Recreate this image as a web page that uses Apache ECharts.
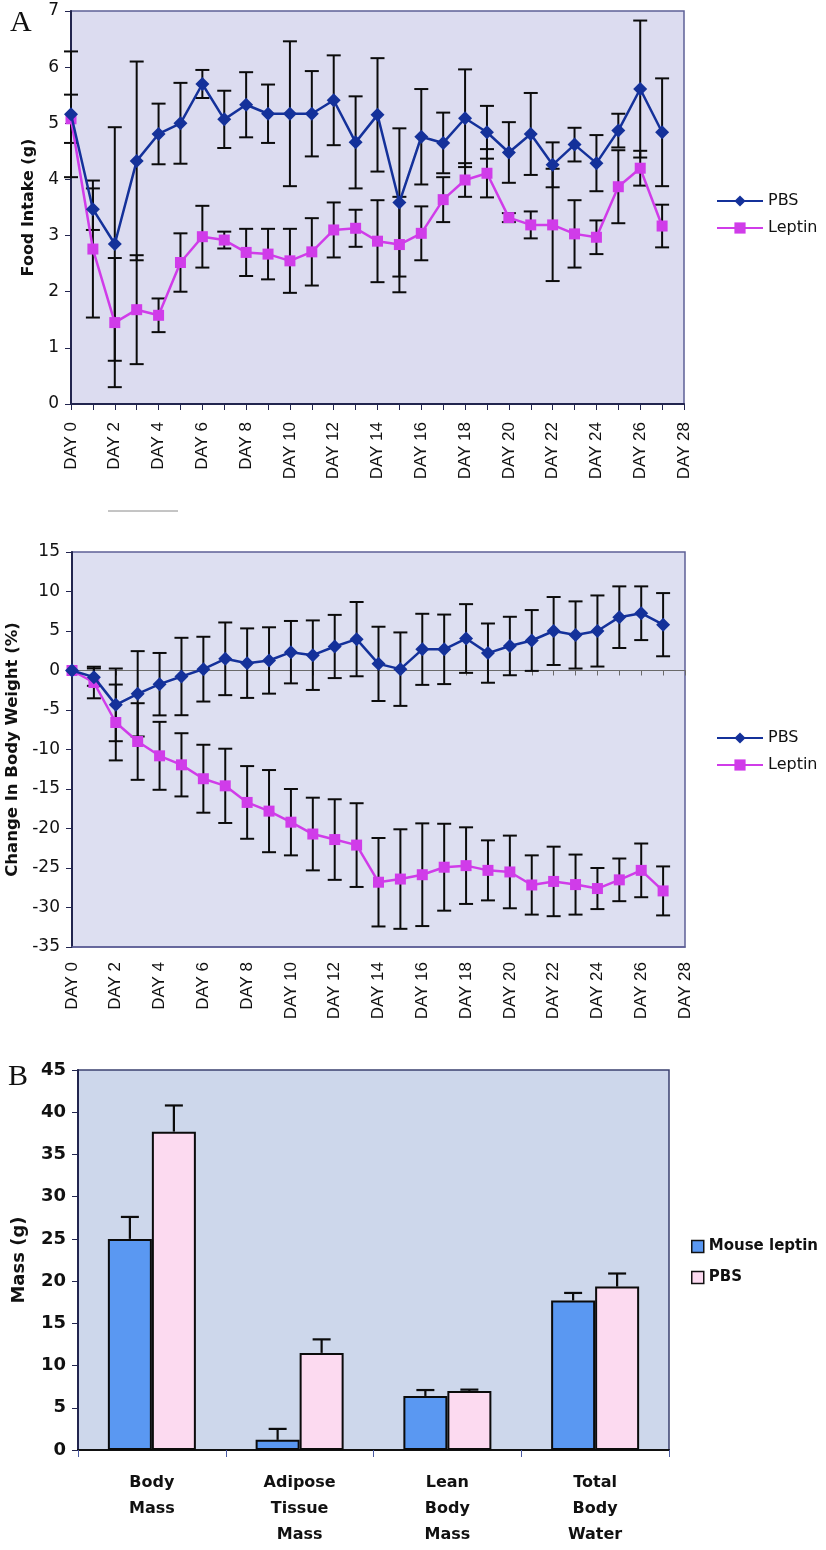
<!DOCTYPE html>
<html>
<head>
<meta charset="utf-8">
<script src="https://cdn.jsdelivr.net/npm/echarts@6/dist/echarts.min.js"></script>
<style>
html,body{margin:0;padding:0;background:#ffffff;}
#chart{width:826px;height:1550px;}
</style>
</head>
<body>
<div id="chart"></div>
<script>
// ---------- Data ----------
const dayLabels = ['DAY 0','DAY 1','DAY 2','DAY 3','DAY 4','DAY 5','DAY 6','DAY 7','DAY 8','DAY 9','DAY 10',
  'DAY 11','DAY 12','DAY 13','DAY 14','DAY 15','DAY 16','DAY 17','DAY 18','DAY 19','DAY 20',
  'DAY 21','DAY 22','DAY 23','DAY 24','DAY 25','DAY 26','DAY 27','DAY 28'];

// Panel A (top): Food intake (g)
const foodPBS = [5.16,3.47,2.85,4.33,4.81,5.00,5.70,5.07,5.33,5.17,5.17,5.17,5.41,4.66,5.15,3.59,4.76,4.65,5.09,4.84,4.48,4.81,4.26,4.62,4.29,4.87,5.61,4.84];
const foodPBSErr = [1.12,0.37,2.08,1.77,0.54,0.72,0.25,0.51,0.58,0.52,1.29,0.76,0.80,0.82,1.01,1.32,0.85,0.54,0.87,0.47,0.54,0.73,0.40,0.30,0.50,0.30,1.22,0.96];
const foodLeptin = [5.08,2.76,1.45,1.68,1.58,2.52,2.98,2.92,2.70,2.67,2.55,2.71,3.10,3.13,2.90,2.84,3.04,3.64,3.99,4.11,3.32,3.19,3.19,3.03,2.97,3.87,4.20,3.17];
const foodLeptinErr = [0.43,1.22,1.15,0.97,0.30,0.52,0.55,0.15,0.42,0.45,0.57,0.60,0.49,0.33,0.73,0.85,0.48,0.40,0.30,0.43,0.08,0.24,1.00,0.60,0.30,0.65,0.31,0.38];

// Panel A (middle): Change in body weight (%)
const weightPBS = [0,-0.84,-4.35,-2.95,-1.73,-0.76,0.17,1.48,0.93,1.27,2.32,1.94,3.04,3.97,0.84,0.17,2.68,2.68,4.05,2.2,3.1,3.8,5.0,4.5,5.0,6.75,7.25,5.8];
const weightPBSErr = [0,1.1,4.6,5.4,3.95,4.9,4.1,4.6,4.4,4.2,3.95,4.4,4.0,4.7,4.7,4.65,4.5,4.4,4.35,3.75,3.7,3.85,4.3,4.25,4.5,3.9,3.4,4.0];
const weightLeptin = [0,-1.52,-6.58,-8.99,-10.8,-11.94,-13.7,-14.6,-16.7,-17.8,-19.2,-20.7,-21.4,-22.1,-26.8,-26.4,-25.85,-24.9,-24.7,-25.3,-25.5,-27.15,-26.7,-27.1,-27.6,-26.5,-25.3,-27.9];
const weightLeptinErr = [0,2.0,4.8,4.85,4.3,4.0,4.3,4.7,4.6,5.2,4.2,4.6,5.1,5.3,5.6,6.3,6.5,5.5,4.85,3.8,4.6,3.75,4.4,3.8,2.6,2.7,3.4,3.1];

// Panel B: Mass (g)
const massCategories = ['Body\nMass','Adipose\nTissue\nMass','Lean\nBody\nMass','Total\nBody\nWater'];
const massLeptin = [25.0,1.2,6.4,17.7];
const massLeptinErr = [2.6,1.3,0.7,0.9];
const massPBS = [37.7,11.5,7.0,19.35];
const massPBSErr = [3.1,1.6,0.15,1.55];

// ---------- Styles ----------
const NAVY = '#14319a';
const MAGENTA = '#d03ce9';
const BLUEBAR = '#5a98f2';
const PINKBAR = '#fcdaf0';
const YFONT = 'DejaVu Sans';
const XFONT = 'Liberation Sans';

function errSeries(name, gridIdx, vals, errs, capW, z) {
  return {
    type: 'custom', name: name + ' err', xAxisIndex: gridIdx, yAxisIndex: gridIdx,
    silent: true, z: z,
    data: vals.map((v, i) => [i, v - errs[i], v + errs[i]]),
    renderItem: function (params, api) {
      const lo = api.coord([api.value(0), api.value(1)]);
      const hi = api.coord([api.value(0), api.value(2)]);
      if (Math.abs(hi[1] - lo[1]) < 1) return null;
      const st = { stroke: '#0b0b0b', lineWidth: 2 };
      return {
        type: 'group', children: [
          { type: 'line', shape: { x1: lo[0], y1: lo[1], x2: hi[0], y2: hi[1] }, style: st },
          { type: 'line', shape: { x1: lo[0] - capW / 2, y1: lo[1], x2: lo[0] + capW / 2, y2: lo[1] }, style: st },
          { type: 'line', shape: { x1: hi[0] - capW / 2, y1: hi[1], x2: hi[0] + capW / 2, y2: hi[1] }, style: st }
        ]
      };
    }
  };
}

function barErrSeries(name, vals, errs, offset) {
  return {
    type: 'custom', name: name + ' err', xAxisIndex: 3, yAxisIndex: 2, silent: true, z: 5,
    data: vals.map((v, i) => [i, v, v + errs[i]]),
    renderItem: function (params, api) {
      const lo = api.coord([api.value(0), api.value(1)]);
      const hi = api.coord([api.value(0), api.value(2)]);
      const x = lo[0] + offset;
      const st = { stroke: '#0b0b0b', lineWidth: 2.2 };
      return {
        type: 'group', children: [
          { type: 'line', shape: { x1: x, y1: lo[1], x2: x, y2: hi[1] }, style: st },
          { type: 'line', shape: { x1: x - 9, y1: hi[1], x2: x + 9, y2: hi[1] }, style: st }
        ]
      };
    }
  };
}

const yLabel = { fontFamily: YFONT, fontSize: 17, color: '#111', margin: 12 };
const xLabel = { fontFamily: XFONT, fontSize: 17, color: '#111', rotate: 90, interval: 1 };

const chart = echarts.init(document.getElementById('chart'), null, { renderer: 'canvas' });

const option = {
  animation: false,
  backgroundColor: '#ffffff',
  grid: [
    { left: 71, top: 11, width: 613, height: 393, show: true, outerBoundsMode: 'none', containLabel: false, backgroundColor: '#dcdcf0', borderColor: '#5d6096', borderWidth: 1.5 },
    { left: 72, top: 552, width: 613, height: 395, show: true, outerBoundsMode: 'none', containLabel: false, backgroundColor: '#dddff1', borderColor: '#5d6096', borderWidth: 1.5 },
    { left: 78, top: 1070, width: 591, height: 380, show: true, outerBoundsMode: 'none', containLabel: false, backgroundColor: '#cdd7eb', borderColor: '#3b4170', borderWidth: 1.5 }
  ],
  xAxis: [
    { // 0: top
      type: 'category', gridIndex: 0, data: dayLabels, boundaryGap: false,
      axisLine: { lineStyle: { color: '#22254f', width: 2 } },
      axisTick: { show: true, interval: 0, length: 6, lineStyle: { color: '#22254f' } },
      axisLabel: Object.assign({}, xLabel, { margin: 18 }),
      splitLine: { show: false }
    },
    { // 1: middle bottom labels
      type: 'category', gridIndex: 1, data: dayLabels, boundaryGap: false,
      axisLine: { onZero: false, lineStyle: { color: '#5d6096', width: 1.5 } },
      axisTick: { show: false },
      axisLabel: Object.assign({}, xLabel, { margin: 15 }),
      splitLine: { show: false }
    },
    { // 2: middle zero line
      type: 'category', gridIndex: 1, data: dayLabels, boundaryGap: false, position: 'bottom',
      axisLine: { onZero: true, lineStyle: { color: '#6a6a6a', width: 1 } },
      axisTick: { show: true, interval: 0, length: 5, inside: false, lineStyle: { color: '#6a6a6a' } },
      axisLabel: { show: false },
      splitLine: { show: false }
    },
    { // 3: bottom bars
      type: 'category', gridIndex: 2, data: massCategories,
      axisLine: { lineStyle: { color: '#111', width: 2 } },
      axisTick: { show: true, length: 7, lineStyle: { color: '#4a5aa0' } },
      axisLabel: { fontFamily: YFONT, fontWeight: 'bold', fontSize: 16, color: '#111', lineHeight: 26, interval: 0, margin: 20, verticalAlign: 'top' },
      splitLine: { show: false }
    }
  ],
  yAxis: [
    {
      type: 'value', gridIndex: 0, min: 0, max: 7, interval: 1,
      name: 'Food Intake (g)', nameLocation: 'middle', nameGap: 27,
      nameTextStyle: { fontFamily: YFONT, fontWeight: 'bold', fontSize: 16, color: '#111' },
      axisLine: { show: true, onZero: false, lineStyle: { color: '#22254f', width: 2 } },
      axisTick: { show: true, length: 6, lineStyle: { color: '#22254f' } },
      axisLabel: yLabel, splitLine: { show: false }
    },
    {
      type: 'value', gridIndex: 1, min: -35, max: 15, interval: 5,
      name: 'Change In Body Weight (%)', nameLocation: 'middle', nameGap: 47,
      nameTextStyle: { fontFamily: YFONT, fontWeight: 'bold', fontSize: 16.5, color: '#111' },
      axisLine: { show: true, onZero: false, lineStyle: { color: '#22254f', width: 2 } },
      axisTick: { show: true, length: 6, lineStyle: { color: '#22254f' } },
      axisLabel: yLabel, splitLine: { show: false }
    },
    {
      type: 'value', gridIndex: 2, min: 0, max: 45, interval: 5,
      name: 'Mass (g)', nameLocation: 'middle', nameGap: 50,
      nameTextStyle: { fontFamily: YFONT, fontWeight: 'bold', fontSize: 18, color: '#111' },
      axisLine: { show: true, onZero: false, lineStyle: { color: '#22254f', width: 2 } },
      axisTick: { show: true, length: 6, lineStyle: { color: '#22254f' } },
      axisLabel: { fontFamily: YFONT, fontWeight: 'bold', fontSize: 18, color: '#111', margin: 12 },
      splitLine: { show: false }
    }
  ],
  legend: [
    {
      left: 711, top: 188, orient: 'vertical', itemWidth: 46, itemHeight: 14, itemGap: 11,
      data: ['PBS', 'Leptin'],
      textStyle: { fontFamily: YFONT, fontSize: 16, color: '#111' }
    },
    {
      left: 711, top: 725, orient: 'vertical', itemWidth: 46, itemHeight: 14, itemGap: 11,
      data: ['PBS', 'Leptin'],
      textStyle: { fontFamily: YFONT, fontSize: 16, color: '#111' }
    },
    {
      left: 686, top: 1234, orient: 'vertical', itemWidth: 12, itemHeight: 12, itemGap: 16,
      data: ['Mouse leptin', 'PBS bars'], icon: 'rect',
      formatter: function (n) { return n === 'PBS bars' ? 'PBS' : n; },
      itemStyle: { borderColor: '#111', borderWidth: 1.5 },
      textStyle: { fontFamily: YFONT, fontWeight: 'bold', fontSize: 15, color: '#111' }
    }
  ],
  graphic: [
    { type: 'text', left: 10, top: 8, style: { text: 'A', font: '30px "Liberation Serif"', fill: '#111' } },
    { type: 'text', left: 8, top: 1062, style: { text: 'B', font: '30px "Liberation Serif"', fill: '#111' } },
    { type: 'line', shape: { x1: 108, y1: 511, x2: 178, y2: 511 }, style: { stroke: '#8a8a8a', lineWidth: 1 } }
  ],
  series: [
    errSeries('PBS', 0, foodPBS, foodPBSErr, 14, 2),
    errSeries('Leptin', 0, foodLeptin, foodLeptinErr, 14, 2),
    {
      type: 'line', name: 'PBS', xAxisIndex: 0, yAxisIndex: 0, data: foodPBS, z: 4,
      symbol: 'diamond', symbolSize: 14, color: NAVY,
      lineStyle: { color: NAVY, width: 2.5 }, itemStyle: { color: NAVY }
    },
    {
      type: 'line', name: 'Leptin', xAxisIndex: 0, yAxisIndex: 0, data: foodLeptin, z: 3,
      symbol: 'rect', symbolSize: 11, color: MAGENTA,
      lineStyle: { color: MAGENTA, width: 2.5 }, itemStyle: { color: MAGENTA }
    },
    errSeries('PBS', 1, weightPBS, weightPBSErr, 14, 2),
    errSeries('Leptin', 1, weightLeptin, weightLeptinErr, 14, 2),
    {
      type: 'line', name: 'PBS', xAxisIndex: 1, yAxisIndex: 1, data: weightPBS, z: 4,
      symbol: 'diamond', symbolSize: 14, color: NAVY,
      lineStyle: { color: NAVY, width: 2.5 }, itemStyle: { color: NAVY }
    },
    {
      type: 'line', name: 'Leptin', xAxisIndex: 1, yAxisIndex: 1, data: weightLeptin, z: 3,
      symbol: 'rect', symbolSize: 11, color: MAGENTA,
      lineStyle: { color: MAGENTA, width: 2.5 }, itemStyle: { color: MAGENTA }
    },
    {
      type: 'bar', name: 'Mouse leptin', xAxisIndex: 3, yAxisIndex: 2, data: massLeptin,
      barWidth: 44, barGap: '0%', color: BLUEBAR,
      itemStyle: { color: BLUEBAR, borderColor: '#0b0b0b', borderWidth: 2 }
    },
    {
      type: 'bar', name: 'PBS bars', xAxisIndex: 3, yAxisIndex: 2, data: massPBS,
      barWidth: 44, barGap: '0%', color: PINKBAR,
      itemStyle: { color: PINKBAR, borderColor: '#0b0b0b', borderWidth: 2 }
    },
    barErrSeries('Mouse leptin', massLeptin, massLeptinErr, -22),
    barErrSeries('PBS bars', massPBS, massPBSErr, 22)
  ]
};
chart.setOption(option);
</script>
</body>
</html>
